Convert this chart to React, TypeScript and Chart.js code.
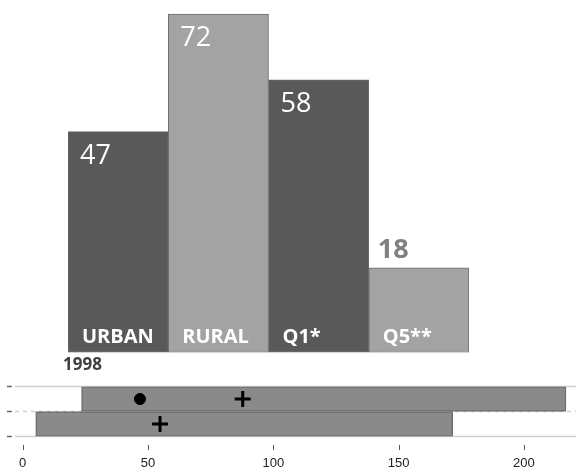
import React, { useEffect, useRef } from 'react';
import { Chart, registerables } from 'chart.js';

Chart.register(...registerables);

// ---- top panel data ----
const CATEGORIES = ['URBAN', 'RURAL', 'Q1*', 'Q5**'];
const VALUES = [47, 72, 58, 18];
const BAR_COLORS = ['#595959', '#a3a3a3', '#595959', '#a3a3a3'];
const YEAR_LABEL = '1998';

// ---- bottom panel data ----
const RANGE_ROWS = ['row1', 'row2'];
const RANGE_START = [23.5, 5.2];
const RANGE_END = [216.8, 171.6];
const MARKER_ROWS = ['row1', 'row1', 'row2'];
const MARKER_VALUES = [46.8, 87.8, 54.8];
const MARKER_STYLES = ['circle', 'cross', 'cross'];
const X_TICKS = [0, 50, 100, 150, 200];

const topLabelsPlugin = {
  id: 'topLabels',
  afterDatasetsDraw(chart: any) {
    const ctx = chart.ctx;
    const meta = chart.getDatasetMeta(0);
    meta.data.forEach((bar: any, i: number) => {
      const { x, y, base, width } = bar.getProps(['x', 'y', 'base', 'width'], true);
      const left = x - width / 2;
      const v = VALUES[i];
      ctx.save();
      ctx.textAlign = 'left';
      ctx.textBaseline = 'alphabetic';
      if (v >= 30) {
        ctx.font = '27px "Open Sans"';
        ctx.fillStyle = '#ffffff';
        ctx.fillText(String(v), left + 12, y + 32);
      } else {
        ctx.font = 'bold 27px "Open Sans"';
        ctx.fillStyle = '#808080';
        ctx.fillText(String(v), left + 9, y - 10);
      }
      ctx.font = 'bold 20px "Open Sans"';
      ctx.fillStyle = '#ffffff';
      ctx.fillText(CATEGORIES[i], left + 14, base - 9.5);
      ctx.restore();
    });
    const area = chart.chartArea;
    ctx.save();
    ctx.font = 'bold 17px "Open Sans"';
    ctx.fillStyle = '#404040';
    ctx.textAlign = 'left';
    ctx.textBaseline = 'alphabetic';
    ctx.fillText(YEAR_LABEL, area.left - 5, area.bottom + 17);
    ctx.restore();
  },
};

const bottomDecorPlugin = {
  id: 'bottomDecor',
  beforeDatasetsDraw(chart: any) {
    const { ctx } = chart;
    const xS = chart.scales.x;
    const yS = chart.scales.y;
    const startX = xS.getPixelForValue(-6.3);
    const n = RANGE_ROWS.length;
    for (let i = 0; i <= n; i++) {
      const py = yS.getPixelForValue(i - 0.5);
      const dashed = i > 0 && i < n;
      ctx.save();
      ctx.strokeStyle = '#cfcfcf';
      ctx.lineWidth = 1.5;
      if (dashed) ctx.setLineDash([4, 4]);
      ctx.beginPath();
      ctx.moveTo(startX + 8, py);
      ctx.lineTo(chart.width, py);
      ctx.stroke();
      ctx.setLineDash([]);
      ctx.strokeStyle = '#666666';
      ctx.beginPath();
      ctx.moveTo(startX, py);
      ctx.lineTo(startX + 5, py);
      ctx.stroke();
      ctx.restore();
    }
  },
  afterDraw(chart: any) {
    const { ctx } = chart;
    const xS = chart.scales.x;
    ctx.save();
    ctx.strokeStyle = '#555555';
    ctx.lineWidth = 1;
    X_TICKS.forEach((t) => {
      const px = Math.round(xS.getPixelForValue(t)) + 0.5;
      ctx.beginPath();
      ctx.moveTo(px, xS.top + 8.5);
      ctx.lineTo(px, xS.top + 13.5);
      ctx.stroke();
    });
    ctx.restore();
  },
};

export default function App() {
  const topRef = useRef<HTMLCanvasElement>(null);
  const botRef = useRef<HTMLCanvasElement>(null);

  useEffect(() => {
    const top = new Chart(topRef.current as HTMLCanvasElement, {
      type: 'bar',
      data: {
        labels: CATEGORIES,
        datasets: [
          {
            data: VALUES,
            backgroundColor: BAR_COLORS,
            borderColor: '#6b6b6b',
            borderWidth: 1,
            borderSkipped: false,
            barPercentage: 1,
            categoryPercentage: 1,
          },
        ],
      },
      options: {
        responsive: false,
        animation: false,
        events: [],
        layout: { autoPadding: false, padding: { left: 68, right: 107, top: 0, bottom: 23.5 } },
        plugins: { legend: { display: false }, tooltip: { enabled: false } },
        scales: {
          x: { display: false },
          y: { display: false, min: 0, max: 75 },
        },
      },
      plugins: [topLabelsPlugin],
    } as any);

    const bottom = new Chart(botRef.current as HTMLCanvasElement, {
      type: 'bar',
      data: {
        labels: RANGE_ROWS,
        datasets: [
          {
            type: 'line',
            indexAxis: 'y',
            order: 0,
            showLine: false,
            data: MARKER_VALUES.map((v, i) => ({ x: v, y: MARKER_ROWS[i] })),
            pointStyle: MARKER_STYLES,
            pointRadius: [5.5, 8, 8],
            pointBorderWidth: [1, 3, 3],
            pointBackgroundColor: '#000000',
            pointBorderColor: '#000000',
            clip: false,
          },
          {
            type: 'bar',
            indexAxis: 'y',
            order: 1,
            data: RANGE_START.map((s, i) => [s, RANGE_END[i]]),
            backgroundColor: '#8a8a8a',
            borderColor: '#6e6e6e',
            borderWidth: 1.5,
            borderSkipped: false,
            barPercentage: 1,
            categoryPercentage: 1,
          },
        ],
      },
      options: {
        indexAxis: 'y',
        responsive: false,
        animation: false,
        events: [],
        layout: { autoPadding: false, padding: { left: 0, right: 0, top: 10.5, bottom: 0 } },
        plugins: { legend: { display: false }, tooltip: { enabled: false } },
        scales: {
          x: {
            type: 'linear',
            min: -9.06,
            max: 220.8,
            grid: { display: false, drawTicks: false },
            border: { display: false },
            afterBuildTicks: (s: any) => {
              s.ticks = X_TICKS.map((v) => ({ value: v }));
            },
            afterFit: (s: any) => {
              s.height = 32.5;
            },
            ticks: {
              autoSkip: false,
              maxRotation: 0,
              padding: 19,
              color: '#222222',
              font: { family: '"Liberation Sans", Arial, sans-serif', size: 13 },
            },
          },
          y: { type: 'category', labels: RANGE_ROWS, display: false },
        },
      },
      plugins: [bottomDecorPlugin],
    } as any);

    return () => {
      top.destroy();
      bottom.destroy();
    };
  }, []);

  return (
    <div style={{ position: 'absolute', left: 0, top: 0, width: 576, height: 469, background: '#ffffff' }}>
      <canvas ref={topRef} width={576} height={376} style={{ position: 'absolute', left: 0, top: 0, width: 576, height: 376 }} />
      <canvas ref={botRef} width={576} height={93} style={{ position: 'absolute', left: 0, top: 376, width: 576, height: 93 }} />
    </div>
  );
}
